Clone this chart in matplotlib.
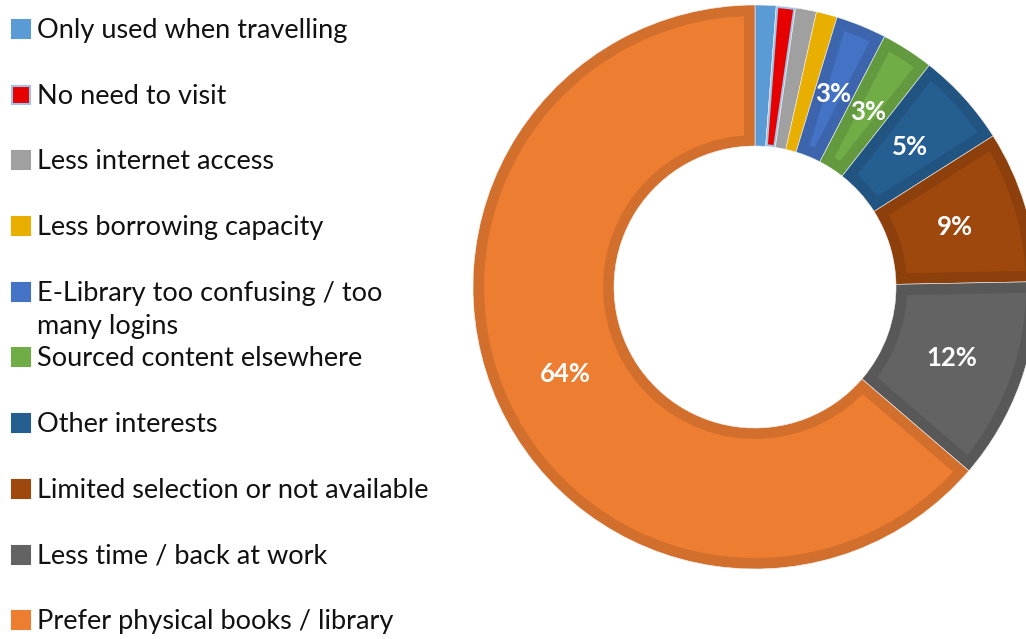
import matplotlib.pyplot as plt
from matplotlib.patches import Rectangle, Polygon
import matplotlib.colors as mcolors
import numpy as np

labels = ['Only used when travelling', 'No need to visit', 'Less internet access',
          'Less borrowing capacity', 'E-Library too confusing / too\nmany logins',
          'Sourced content elsewhere', 'Other interests',
          'Limited selection or not available', 'Less time / back at work',
          'Prefer physical books / library']
values = [1.2, 1.1, 1.2, 1.2, 2.9, 3.0, 5.4, 8.7, 11.6, 63.7]
colors = ['#5B9BD5', '#E60000', '#A0A0A0', '#E8AE00', '#4472C4',
          '#70AD47', '#255E91', '#9E480E', '#636363', '#ED7D31']

W, H = 1026, 639
fig = plt.figure(figsize=(W / 100, H / 100), dpi=100)
plt.rcParams['font.family'] = ['Lato', 'DejaVu Sans']

# donut axes: centre (755, 287) px, outer radius 282 px
cx, cy, R = 755, 287, 282
ax = fig.add_axes([(cx - R) / W, (H - cy - R) / H, 2 * R / W, 2 * R / H])

def darker(c, f=0.89):
    r, g, b = mcolors.to_rgb(c)
    return (r * f, g * f, b * f)

# excel-like border: wedge drawn in the darker colour, inner part in the fill colour
border_cols = [darker(c) if v >= 2.5 else c for v, c in zip(values, colors)]
border_cols[1] = '#9DC3E6'
wedges, _ = ax.pie(values, colors=border_cols, startangle=90, counterclock=False,
                   radius=1, wedgeprops=dict(width=0.5, linewidth=0.4, edgecolor='#f2f2f2'))
ax.set_xlim(-1, 1)
ax.set_ylim(-1, 1)
ax.set_aspect('equal')
ax.axis('off')

def inner_poly(w, d):
    t1, t2 = np.radians(w.theta1), np.radians(w.theta2)
    ro, ri = w.r - d, w.r - w.width + d
    a_o, a_i = np.arcsin(d / ro), np.arcsin(d / ri)
    outer = np.linspace(t1 + a_o, t2 - a_o, 80)
    inner = np.linspace(t2 - a_i, t1 + a_i, 40)
    pts = np.r_[np.c_[ro * np.cos(outer), ro * np.sin(outer)],
                np.c_[ri * np.cos(inner), ri * np.sin(inner)]]
    return pts

for w, v, c in zip(wedges, values, colors):
    if v >= 2.5:
        d = 11 / R
    elif c == '#E60000':
        d = 2.2 / R
    else:
        continue
    ax.add_patch(Polygon(inner_poly(w, d), closed=True, facecolor=c, linewidth=0))

# percentage labels
cum = np.cumsum([0] + values[:-1])
total = sum(values)
for v, start in zip(values, cum):
    if v < 2.5:
        continue
    mid = 90 - 360 * (start + v / 2) / total
    r = 0.74
    ax.text(r * np.cos(np.radians(mid)), r * np.sin(np.radians(mid)),
            '%d%%' % round(v), ha='center', va='center',
            color='white', fontsize=18.5, fontweight='bold')

# legend on the left
for i, (lab, c) in enumerate(zip(labels, colors)):
    base = 38 + i * 65.7
    ec = '#9DC3E6' if c == '#E60000' else c
    fig.patches.append(Rectangle((12 / W, 1 - base / H), 18 / W, 18 / H,
                                 transform=fig.transFigure, facecolor=c,
                                 edgecolor=ec, linewidth=1.5))
    for k, line in enumerate(lab.split('\n')):
        fig.text(37 / W, 1 - (base + k * 33) / H, line, ha='left', va='baseline',
                 fontsize=19.5, color='#111111')

fig.savefig('out.png', dpi=100)
